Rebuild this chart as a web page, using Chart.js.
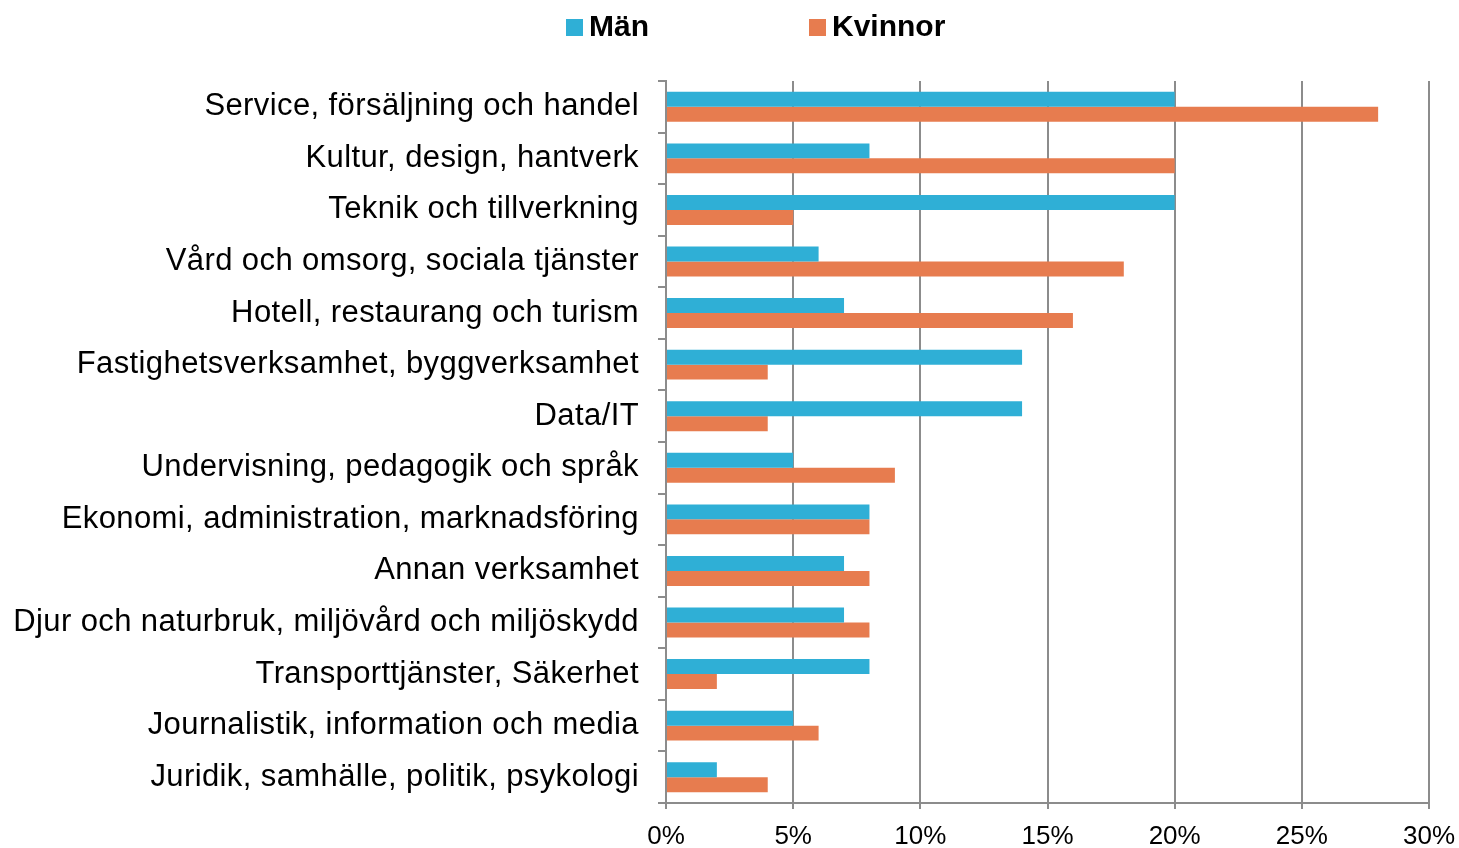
<!DOCTYPE html>
<html>
<head>
<meta charset="utf-8">
<script src="https://cdn.jsdelivr.net/npm/chart.js@4"></script>
<style>
  html, body { margin: 0; padding: 0; background: #fff; }
  #wrap { width: 1459px; height: 848px; }
</style>
</head>
<body>
<div id="wrap"><canvas id="myChart"></canvas></div>
<script>
var categories = [
  "Service, försäljning och handel",
  "Kultur, design, hantverk",
  "Teknik och tillverkning",
  "Vård och omsorg, sociala tjänster",
  "Hotell, restaurang och turism",
  "Fastighetsverksamhet, byggverksamhet",
  "Data/IT",
  "Undervisning, pedagogik och språk",
  "Ekonomi, administration, marknadsföring",
  "Annan verksamhet",
  "Djur och naturbruk, miljövård och miljöskydd",
  "Transporttjänster, Säkerhet",
  "Journalistik, information och media",
  "Juridik, samhälle, politik, psykologi"
];
var man = [20, 8, 20, 6, 7, 14, 14, 5, 8, 7, 7, 8, 5, 2];
var kvinnor = [28, 20, 5, 18, 16, 4, 4, 9, 8, 8, 8, 2, 6, 4];
var xTicks = [0, 5, 10, 15, 20, 25, 30];

var blue = "#2FAFD6";
var orange = "#E77C4F";
var grey = "#8c8c8c";
var font = "'Liberation Sans', Arial, sans-serif";

// legend drawn by hand so the wide spacing can match
var legendPlugin = {
  id: "topLegend",
  afterDraw: function (chart) {
    var c = chart.ctx;
    var pos = [566, 809];
    c.save();
    c.font = "bold 30px " + font;
    c.textBaseline = "middle";
    chart.data.datasets.forEach(function (ds, i) {
      c.fillStyle = ds.backgroundColor;
      c.fillRect(pos[i], 19, 17, 17);
      c.fillStyle = "#000";
      c.fillText(ds.label, pos[i] + 23, 28);
    });
    c.restore();
  }
};

// the category labels in the original run a little wider than normal
var spacingPlugin = {
  id: "labelSpacing",
  afterUpdate: function (chart) {
    var s = chart.scales.y;
    if (s._spaced) return;
    var orig = s.drawLabels;
    s.drawLabels = function (area) {
      var c = this.ctx;
      c.save();
      c.letterSpacing = "0.4px";
      orig.call(this, area);
      c.restore();
    };
    s._spaced = true;
  }
};

var ctx = document.getElementById("myChart").getContext("2d");
var chart = new Chart(ctx, {
  type: "bar",
  data: {
    labels: categories,
    datasets: [
      { label: "Män", backgroundColor: blue, data: man },
      { label: "Kvinnor", backgroundColor: orange, data: kvinnor }
    ]
  },
  options: {
    indexAxis: "y",
    responsive: true,
    maintainAspectRatio: false,
    animation: false,
    layout: { padding: { top: 81, right: 30, bottom: 0, left: 0 } },
    datasets: {
      bar: { barPercentage: 1, categoryPercentage: 0.58 }
    },
    plugins: {
      legend: { display: false },
      tooltip: { enabled: false }
    },
    scales: {
      x: {
        min: 0,
        max: 30,
        afterBuildTicks: function (s) {
          s.ticks = xTicks.map(function (v) { return { value: v }; });
        },
        afterFit: function (s) {
          s.height = 45;
          s.paddingLeft = 0;
          s.paddingRight = 0;
        },
        grid: { color: grey, lineWidth: 2, tickLength: 6 },
        border: { color: grey, width: 2 },
        ticks: {
          color: "#000",
          padding: 12,
          font: { family: font, size: 26 },
          callback: function (v) { return v + "%"; }
        }
      },
      y: {
        afterFit: function (s) { s.width = 666; },
        grid: { drawOnChartArea: false, offset: true, color: grey, lineWidth: 2, tickLength: 8 },
        border: { color: grey, width: 2 },
        ticks: {
          color: "#000",
          padding: 19,
          autoSkip: false,
          font: { family: font, size: 31 }
        }
      }
    }
  },
  plugins: [legendPlugin, spacingPlugin]
});
chart.update();
</script>
</body>
</html>
